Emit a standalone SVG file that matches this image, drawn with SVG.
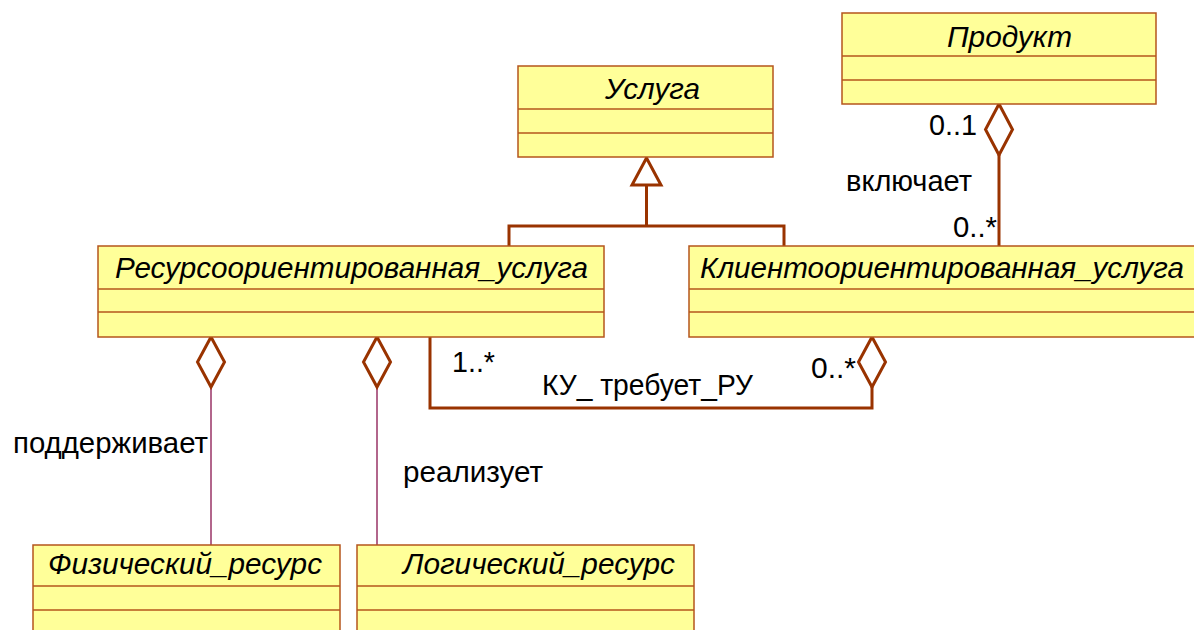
<svg xmlns="http://www.w3.org/2000/svg" width="1194" height="630" viewBox="0 0 1194 630">
<style>
.box{fill:#FFFF99;stroke:#B5561C;stroke-width:1.5}
.div{stroke:#B5561C;stroke-width:1.5}
.title{font-family:"Liberation Sans",Arial,sans-serif;font-style:italic;font-size:30px;fill:#000}
.lbl{font-family:"Liberation Sans",Arial,sans-serif;font-size:30px;fill:#000}
.conn{fill:none;stroke:#993300;stroke-width:3}
.head{fill:#fff;stroke:#993300;stroke-width:3}
.thin{fill:none;stroke:#993366;stroke-width:1.5}
</style>
<rect width="1194" height="630" fill="#fff"/>
<g id="connectors">
  <polygon class="head" points="646.5,158 632,185 661,185"/>
  <polyline class="conn" points="646.5,185 646.5,226"/>
  <polyline class="conn" points="509,246 509,226 784,226 784,246"/>
  <line class="conn" x1="999" y1="155" x2="999" y2="246"/>
  <polygon class="head" points="999,104 1012.5,129.5 999,155 985.5,129.5"/>
  <line class="thin" x1="211" y1="387" x2="211" y2="545"/>
  <polygon class="head" points="211,337 224.5,362 211,387 197.5,362"/>
  <line class="thin" x1="377" y1="387" x2="377" y2="545"/>
  <polygon class="head" points="377,337 390.5,362 377,387 363.5,362"/>
  <polyline class="conn" points="430,337 430,408 872,408 872,387"/>
  <polygon class="head" points="872,337 885.5,362 872,387 858.5,362"/>
  <text class="lbl" x="929" y="135" textLength="48" lengthAdjust="spacingAndGlyphs">0..1</text>
  <text class="lbl" x="846" y="191" textLength="126" lengthAdjust="spacingAndGlyphs">включает</text>
  <text class="lbl" x="953" y="237" textLength="44" lengthAdjust="spacingAndGlyphs">0..*</text>
  <text class="lbl" x="452" y="372" textLength="43" lengthAdjust="spacingAndGlyphs">1..*</text>
  <text class="lbl" x="542" y="395" textLength="211" lengthAdjust="spacingAndGlyphs">КУ_ требует_РУ</text>
  <text class="lbl" x="811" y="378" textLength="45" lengthAdjust="spacingAndGlyphs">0..*</text>
  <text class="lbl" x="13" y="453" textLength="195" lengthAdjust="spacingAndGlyphs">поддерживает</text>
  <text class="lbl" x="403" y="482" textLength="140" lengthAdjust="spacingAndGlyphs">реализует</text>
</g>
<g id="usluga">
  <rect class="box" x="518" y="66" width="255" height="91"/>
  <line class="div" x1="518" y1="109" x2="773" y2="109"/>
  <line class="div" x1="518" y1="133" x2="773" y2="133"/>
  <text class="title" x="605" y="99" textLength="95" lengthAdjust="spacingAndGlyphs">Услуга</text>
</g>
<g id="produkt">
  <rect class="box" x="842" y="13" width="314" height="91"/>
  <line class="div" x1="842" y1="56" x2="1156" y2="56"/>
  <line class="div" x1="842" y1="80" x2="1156" y2="80"/>
  <text class="title" x="947" y="47" textLength="125" lengthAdjust="spacingAndGlyphs">Продукт</text>
</g>
<g id="resursnaya">
  <rect class="box" x="98" y="246" width="506" height="91"/>
  <line class="div" x1="98" y1="289" x2="604" y2="289"/>
  <line class="div" x1="98" y1="312" x2="604" y2="312"/>
  <text class="title" x="115" y="278" textLength="473" lengthAdjust="spacingAndGlyphs">Ресурсоориентированная_услуга</text>
</g>
<g id="klientskaya">
  <rect class="box" x="689" y="246" width="520" height="91"/>
  <line class="div" x1="689" y1="289" x2="1209" y2="289"/>
  <line class="div" x1="689" y1="312" x2="1209" y2="312"/>
  <text class="title" x="700" y="278" textLength="484" lengthAdjust="spacingAndGlyphs">Клиентоориентированная_услуга</text>
</g>
<g id="fizicheskiy">
  <rect class="box" x="33" y="545" width="307" height="100"/>
  <line class="div" x1="33" y1="586" x2="340" y2="586"/>
  <line class="div" x1="33" y1="610" x2="340" y2="610"/>
  <text class="title" x="48" y="574" textLength="274" lengthAdjust="spacingAndGlyphs">Физический_ресурс</text>
</g>
<g id="logicheskiy">
  <rect class="box" x="357" y="545" width="337" height="100"/>
  <line class="div" x1="357" y1="586" x2="694" y2="586"/>
  <line class="div" x1="357" y1="610" x2="694" y2="610"/>
  <text class="title" x="403" y="574" textLength="272" lengthAdjust="spacingAndGlyphs">Логический_ресурс</text>
</g>
</svg>
